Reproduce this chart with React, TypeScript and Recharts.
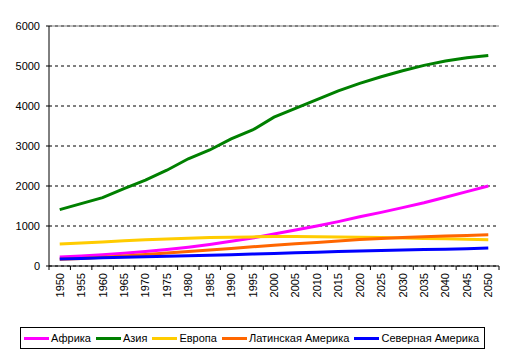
import React from 'react';
import { LineChart, Line, XAxis, YAxis, CartesianGrid, ReferenceLine, Legend } from 'recharts';

// Годы и численность населения (млн)
const years = [
  '1950', '1955', '1960', '1965', '1970', '1975', '1980', '1985', '1990', '1995', '2000',
  '2005', '2010', '2015', '2020', '2025', '2030', '2035', '2040', '2045', '2050',
];
const africa = [227, 250, 280, 320, 360, 410, 470, 540, 620, 700, 800, 900, 1000, 1110, 1230, 1340, 1460, 1580, 1720, 1860, 2000];
const asia = [1410, 1560, 1710, 1935, 2145, 2395, 2680, 2900, 3180, 3400, 3720, 3940, 4160, 4380, 4565, 4730, 4880, 5015, 5125, 5205, 5265];
const europe = [550, 575, 600, 630, 655, 675, 695, 710, 720, 728, 735, 735, 733, 728, 720, 710, 700, 690, 680, 668, 655];
const latin = [167, 190, 218, 250, 285, 322, 362, 400, 440, 480, 520, 555, 590, 625, 660, 688, 710, 732, 750, 765, 780];
const northAm = [172, 187, 204, 218, 231, 243, 256, 269, 282, 298, 315, 330, 345, 360, 375, 388, 400, 410, 420, 432, 450];
const yTicks = [0, 1000, 2000, 3000, 4000, 5000, 6000];

const series = [
  { key: 'africa', name: 'Африка', color: '#FF00FF' },
  { key: 'asia', name: 'Азия', color: '#008000' },
  { key: 'europe', name: 'Европа', color: '#FFCC00' },
  { key: 'latin', name: 'Латинская Америка', color: '#FF6600' },
  { key: 'northAm', name: 'Северная Америка', color: '#0000FF' },
];

const data = years.map((year, i) => ({
  year,
  africa: africa[i],
  asia: asia[i],
  europe: europe[i],
  latin: latin[i],
  northAm: northAm[i],
}));

const FONT = '"Liberation Sans", Arial, sans-serif';
const HALF = 450 / years.length / 2;

const YearTick = (props: any) => {
  const { x, y, payload, index } = props;
  return (
    <g>
      <line x1={x - HALF} y1={y} x2={x - HALF} y2={y + 4} stroke="#000" />
      {index === years.length - 1 && (
        <line x1={x + HALF} y1={y} x2={x + HALF} y2={y + 4} stroke="#000" />
      )}
      <text
        x={0}
        y={0}
        transform={`translate(${x + 4}, ${y + 7}) rotate(-90)`}
        textAnchor="end"
        fontSize={11}
        fontFamily={FONT}
        fill="#000"
      >
        {payload.value}
      </text>
    </g>
  );
};

const LegendBox = () => (
  <div
    style={{
      boxSizing: 'border-box',
      width: 465,
      height: 22,
      border: '1px solid #000',
      display: 'flex',
      alignItems: 'center',
      paddingLeft: 3,
      fontFamily: FONT,
      fontSize: 11,
      color: '#000',
      whiteSpace: 'nowrap',
    }}
  >
    {series.map((s) => (
      <div key={s.key} style={{ display: 'flex', alignItems: 'center', marginRight: 5 }}>
        <span style={{ display: 'inline-block', width: 25, height: 3, background: s.color, marginRight: 2 }} />
        <span>{s.name}</span>
      </div>
    ))}
  </div>
);

const App = () => {
  return (
    <div style={{ position: 'absolute', left: 0, top: 0, width: 514, height: 357, background: '#fff' }}>
      <LineChart width={514} height={357} data={data} margin={{ top: 26, right: 15, left: 0, bottom: 19 }}>
        <CartesianGrid yAxisId="l" vertical={false} stroke="#000" strokeDasharray="3 3" />
        <XAxis
          dataKey="year"
          interval={0}
          padding={{ left: HALF, right: HALF }}
          axisLine={{ stroke: '#000' }}
          tickLine={false}
          tickSize={0}
          tickMargin={0}
          height={50}
          tick={<YearTick />}
        />
        <YAxis
          yAxisId="l"
          domain={[0, 6000]}
          ticks={yTicks}
          width={49}
          axisLine={{ stroke: '#000' }}
          tickLine={{ stroke: '#000' }}
          tickSize={3}
          tickMargin={6}
          tick={{ fill: '#000', fontSize: 11, fontFamily: FONT }}
        />
        <YAxis
          yAxisId="r"
          orientation="right"
          domain={[0, 6000]}
          width={0}
          tick={false}
          tickLine={false}
          axisLine={{ stroke: '#808080' }}
        />
        <ReferenceLine yAxisId="l" y={6000} stroke="#808080" />
        <Legend
          verticalAlign="bottom"
          content={<LegendBox />}
          wrapperStyle={{ left: 20, top: 327, width: 465, height: 22 }}
        />
        {series.map((s) => (
          <Line
            key={s.key}
            yAxisId="l"
            type="linear"
            dataKey={s.key}
            name={s.name}
            stroke={s.color}
            strokeWidth={3}
            dot={false}
            isAnimationActive={false}
          />
        ))}
      </LineChart>
    </div>
  );
};

export default App;
